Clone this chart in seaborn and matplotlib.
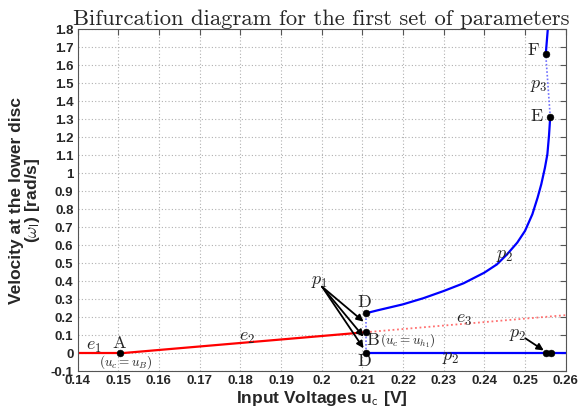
import matplotlib
matplotlib.use("Agg")
import matplotlib.pyplot as plt
import seaborn as sns
import numpy as np
import pandas as pd

# ---- data ----
e1_x = [0.14, 0.1505]
e1_y = [0.0, 0.0]
e2_x = [0.1505, 0.2108]
e2_y = [0.0, 0.117]
e3_x = [0.2108, 0.26]
e3_y = [0.117, 0.212]
p2_low_x = [0.2108, 0.26]
p2_low_y = [0.0, 0.0]
p2_up_x = [0.2108, 0.2138, 0.2170, 0.2200, 0.2250, 0.2300, 0.2349, 0.2400, 0.2431,
           0.2456, 0.2481, 0.2500, 0.2518, 0.2531, 0.2540, 0.2549, 0.2555, 0.2559, 0.2562]
p2_up_y = [0.222, 0.239, 0.256, 0.272, 0.306, 0.346, 0.389, 0.448, 0.494,
           0.550, 0.615, 0.680, 0.772, 0.865, 0.939, 1.031, 1.106, 1.210, 1.314]
p3_x = [0.2562, 0.2551]
p3_y = [1.314, 1.661]
top_x = [0.2551, 0.2556]
top_y = [1.661, 1.80]
vert_x = [0.2108, 0.2108]
vert_y = [0.0, 0.222]
pts_x = [0.1505, 0.2108, 0.2108, 0.2108, 0.2562, 0.2551, 0.2551, 0.2563]
pts_y = [0.0, 0.117, 0.222, 0.0, 1.314, 1.661, 0.0, 0.0]
x_ticks = [0.14, 0.15, 0.16, 0.17, 0.18, 0.19, 0.2, 0.21, 0.22, 0.23, 0.24, 0.25, 0.26]
y_ticks = [-0.1, 0, 0.1, 0.2, 0.3, 0.4, 0.5, 0.6, 0.7, 0.8, 0.9, 1, 1.1, 1.2, 1.3, 1.4, 1.5, 1.6, 1.7, 1.8]

sns.set_style("white")
plt.rcParams["font.family"] = ["Liberation Sans", "DejaVu Sans"]
plt.rcParams["mathtext.fontset"] = "cm"

fig = plt.figure(figsize=(5.79, 4.12), dpi=100)
ax = fig.add_axes([0.134, 0.0988, 0.843, 0.8301])

def seg(x, y, **kw):
    df = pd.DataFrame({"x": x, "y": y})
    sns.lineplot(data=df, x="x", y="y", ax=ax, sort=False, estimator=None, **kw)

seg(e1_x, e1_y, color="#ff0000", linewidth=1.6)
seg(e2_x, e2_y, color="#ff0000", linewidth=1.6)
seg(e3_x, e3_y, color="#ff7070", linewidth=1.3, linestyle=(0, (1, 1.5)))
seg(p2_low_x, p2_low_y, color="#0000ff", linewidth=1.6)
seg(p2_up_x, p2_up_y, color="#0000ff", linewidth=1.6)
seg(p3_x, p3_y, color="#7070ff", linewidth=1.2, linestyle=(0, (1, 1.2)))
seg(top_x, top_y, color="#0000ff", linewidth=1.6)
seg(vert_x, vert_y, color="#7070ff", linewidth=1.2, linestyle=(0, (1, 1.2)))

sns.scatterplot(x=pts_x, y=pts_y, ax=ax, color="black", s=24, edgecolor="black", zorder=5)

# arrows
arr = dict(arrowstyle="-|>", color="black", lw=1.3, mutation_scale=10, shrinkA=0, shrinkB=0)
for hy in [0.176, 0.092, 0.028]:
    ax.annotate("", xy=(0.2103, hy), xytext=(0.2001, 0.37), arrowprops=arr)
ax.annotate("", xy=(0.2546, 0.016), xytext=(0.2501, 0.083), arrowprops=arr)

tk = dict(fontsize=13, ha="center", va="center")
ax.text(0.1995, 0.40, r"$p_1$", **tk)
ax.text(0.2481, 0.105, r"$p_2$", **tk)
ax.text(0.2450, 0.545, r"$p_2$", **tk)
ax.text(0.2318, -0.025, r"$p_2$", **tk)
ax.text(0.2535, 1.49, r"$p_3$", **tk)
ax.text(0.1441, 0.035, r"$e_1$", **tk)
ax.text(0.1816, 0.09, r"$e_2$", **tk)
ax.text(0.2349, 0.19, r"$e_3$", **tk)
ax.text(0.1502, 0.055, r"$\mathrm{A}$", **tk)
ax.text(0.1518, -0.05, r"$(u_c = u_B)$", fontsize=9.5, ha="center", va="center")
ax.text(0.2105, 0.28, r"$\mathrm{D}$", **tk)
ax.text(0.2105, -0.045, r"$\mathrm{D}$", **tk)
ax.text(0.2110, 0.072, r"$\mathrm{B}$", fontsize=13, ha="left", va="center")
ax.text(0.2143, 0.072, r"$(u_c = u_{h_1})$", fontsize=9.5, ha="left", va="center")
ax.text(0.2529, 1.316, r"$\mathrm{E}$", **tk)
ax.text(0.2521, 1.68, r"$\mathrm{F}$", **tk)

ax.set_xlim(0.14, 0.26)
ax.set_ylim(-0.1, 1.8)
ax.set_xticks(x_ticks)
ax.set_yticks(y_ticks)
ax.set_xticklabels([("%g" % v) for v in x_ticks], fontweight="bold", fontsize=9.5)
ax.set_yticklabels([("%g" % v) for v in y_ticks], fontweight="bold", fontsize=9.5)
ax.tick_params(direction="in", top=True, right=True, length=4, width=0.8,
               color="#555555", pad=3)
ax.grid(True, linestyle=(0, (1, 2)), color="#b0b0b0", linewidth=0.8)
for s in ax.spines.values():
    s.set_color("#555555")
    s.set_linewidth(0.8)

ax.set_xlabel(r"Input Voltages u$_{\mathsf{c}}$ [V]", fontsize=12.5, fontweight="bold", labelpad=1)
ax.set_ylabel("Velocity at the lower disc\n" + r"($\omega_\mathsf{l}$) [rad/s]",
              fontsize=12.5, fontweight="bold", labelpad=6, linespacing=0.95)
ax.set_title("Bifurcation diagram for the first set of parameters",
             fontsize=16.3, family="cmr10", pad=3)

fig.savefig("out.png", dpi=100)
